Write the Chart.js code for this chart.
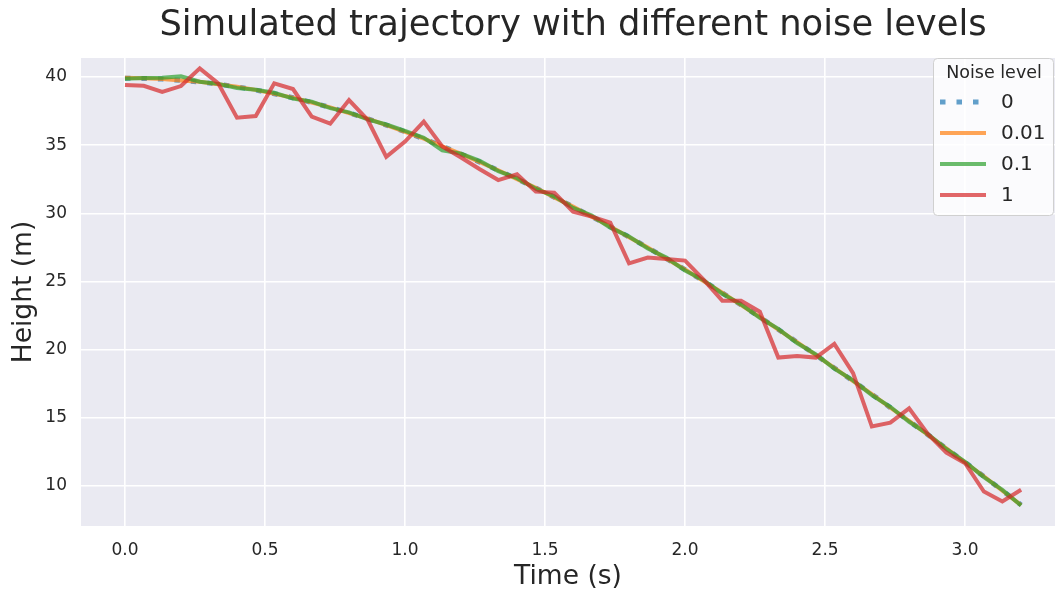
<!DOCTYPE html>
<html>
<head>
<meta charset="utf-8">
<script src="https://cdn.jsdelivr.net/npm/chart.js@4.4.0/dist/chart.umd.min.js"></script>
<style>
    body { margin: 0; background: #ffffff; }
    #box { width: 1055px; height: 590px; }
</style>
</head>
<body>
<div id="box"><canvas id="lineChart" width="1055" height="590"></canvas></div>
<script>
// tempi di campionamento (s)
const tempi = [0.000, 0.067, 0.133, 0.200, 0.267, 0.333, 0.400, 0.467, 0.533, 0.600,
    0.667, 0.733, 0.800, 0.867, 0.933, 1.000, 1.067, 1.133, 1.200, 1.267,
    1.333, 1.400, 1.467, 1.533, 1.600, 1.667, 1.733, 1.800, 1.867, 1.933,
    2.000, 2.067, 2.133, 2.200, 2.267, 2.333, 2.400, 2.467, 2.533, 2.600,
    2.667, 2.733, 2.800, 2.867, 2.933, 3.000, 3.067, 3.133, 3.200];

const livelliRumore = ['0', '0.01', '0.1', '1'];

// altezza (m) per ogni livello di rumore
const altezza0 = [39.92, 39.90, 39.85, 39.76, 39.64, 39.48, 39.28, 39.05, 38.78, 38.48,
    38.14, 37.77, 37.37, 36.94, 36.48, 35.99, 35.47, 34.92, 34.35, 33.76,
    33.15, 32.52, 31.86, 31.18, 30.48, 29.76, 29.02, 28.26, 27.48, 26.68,
    25.86, 25.02, 24.16, 23.28, 22.38, 21.47, 20.54, 19.60, 18.65, 17.69,
    16.72, 15.74, 14.75, 13.75, 12.74, 11.72, 10.69, 9.65, 8.60];

const altezza001 = [39.95, 39.91, 39.86, 39.75, 39.65, 39.47, 39.29, 39.06, 38.77, 38.49,
    38.13, 37.78, 37.36, 36.95, 36.47, 35.98, 35.48, 34.91, 34.36, 33.75,
    33.16, 32.51, 31.87, 31.17, 30.49, 29.75, 29.03, 28.25, 27.49, 26.67,
    25.87, 25.01, 24.17, 23.27, 22.39, 21.46, 20.55, 19.59, 18.66, 17.68,
    16.73, 15.73, 14.76, 13.74, 12.75, 11.71, 10.70, 9.64, 8.58];

const altezza01 = [39.88, 39.93, 39.95, 40.06, 39.66, 39.50, 39.20, 39.07, 38.85, 38.42,
    38.20, 37.72, 37.41, 36.90, 36.52, 36.05, 35.55, 34.62, 34.38, 33.85,
    33.10, 32.58, 31.80, 31.25, 30.40, 29.83, 28.95, 28.30, 27.42, 26.75,
    25.80, 25.08, 24.10, 23.32, 22.33, 21.52, 20.48, 19.65, 18.60, 17.74,
    16.66, 15.80, 14.70, 13.79, 12.70, 11.76, 10.64, 9.70, 8.55];

const altezza1 = [39.41, 39.36, 38.92, 39.34, 40.64, 39.54, 37.02, 37.14, 39.54, 39.12,
    37.09, 36.58, 38.31, 36.85, 34.15, 35.26, 36.73, 34.90, 34.10, 33.23,
    32.44, 32.86, 31.59, 31.52, 30.12, 29.76, 29.31, 26.33, 26.75, 26.65,
    26.53, 25.11, 23.59, 23.59, 22.78, 19.41, 19.53, 19.41, 20.42, 18.27,
    14.35, 14.64, 15.68, 13.80, 12.44, 11.66, 9.58, 8.85, 9.71];

const tickTempo = [0, 0.5, 1.0, 1.5, 2.0, 2.5, 3.0];
const tickAltezza = [10, 15, 20, 25, 30, 35, 40];

const testo = '#262626';
const font = 'DejaVu Sans';

function punti(valori) {
    return tempi.map((t, i) => ({ x: t, y: valori[i] }));
}

// sfondo grigio dell'area del grafico
const sfondoArea = {
    id: 'sfondoArea',
    beforeDraw(chart) {
        const { ctx, chartArea } = chart;
        ctx.save();
        ctx.fillStyle = '#eaeaf2';
        ctx.fillRect(chartArea.left, chartArea.top, chartArea.right - chartArea.left, chartArea.bottom - chartArea.top);
        ctx.restore();
    }
};

// titolo centrato sugli assi interi (anche la parte tagliata a destra)
const titolo = {
    id: 'titolo',
    afterDraw(chart) {
        const { ctx } = chart;
        const sx = chart.scales.x;
        const centro = (sx.getPixelForValue(-0.16) + sx.getPixelForValue(3.36)) / 2;
        ctx.save();
        ctx.fillStyle = testo;
        ctx.font = '35.3px "' + font + '"';
        ctx.textAlign = 'center';
        ctx.textBaseline = 'alphabetic';
        ctx.fillText('Simulated trajectory with different noise levels', centro, 35);
        ctx.restore();
    }
};

// legenda dentro l'area, in alto a destra
const legenda = {
    id: 'legenda',
    afterDraw(chart) {
        const { ctx, chartArea } = chart;
        const x0 = chartArea.right - 122, y0 = chartArea.top, w = 120, h = 157;
        ctx.save();
        ctx.beginPath();
        ctx.roundRect(x0 + 0.5, y0 + 0.5, w, h, 4);
        ctx.fillStyle = 'rgba(255,255,255,0.8)';
        ctx.fill();
        ctx.strokeStyle = '#d0d0d0';
        ctx.lineWidth = 1;
        ctx.stroke();

        ctx.fillStyle = testo;
        ctx.textBaseline = 'middle';
        ctx.textAlign = 'center';
        ctx.font = '17.5px "' + font + '"';
        ctx.fillText('Noise level', x0 + 61, y0 + 15);

        ctx.textAlign = 'left';
        ctx.font = '20px "' + font + '"';
        chart.data.datasets.forEach((ds, i) => {
            const y = y0 + 44 + i * 31;
            ctx.beginPath();
            ctx.strokeStyle = ds.borderColor;
            ctx.lineWidth = ds.borderWidth;
            ctx.setLineDash(ds.borderDash || []);
            ctx.moveTo(x0 + 7, y);
            ctx.lineTo(x0 + 53, y);
            ctx.stroke();
            ctx.setLineDash([]);
            ctx.fillStyle = testo;
            ctx.fillText(ds.label, x0 + 68, y + 1);
        });
        ctx.restore();
    }
};

const myChart = new Chart(document.getElementById('lineChart').getContext('2d'), {
    type: 'line',
    data: {
        datasets: [{
            label: livelliRumore[0],
            data: punti(altezza0),
            borderColor: 'rgba(31,119,180,0.7)',
            borderWidth: 5,
            borderDash: [5.5, 11],
            order: 4
        }, {
            label: livelliRumore[1],
            data: punti(altezza001),
            borderColor: 'rgba(255,127,14,0.7)',
            borderWidth: 4,
            order: 3
        }, {
            label: livelliRumore[2],
            data: punti(altezza01),
            borderColor: 'rgba(44,160,44,0.7)',
            borderWidth: 4,
            order: 2
        }, {
            label: livelliRumore[3],
            data: punti(altezza1),
            borderColor: 'rgba(214,39,40,0.7)',
            borderWidth: 4,
            order: 1
        }]
    },
    options: {
        responsive: false,
        animation: false,
        tension: 0,
        pointRadius: 0,
        layout: { padding: { top: 58, right: 0, bottom: 0, left: 0 } },
        plugins: {
            legend: { display: false },
            tooltip: { enabled: false }
        },
        scales: {
            x: {
                type: 'linear',
                min: -0.157,
                max: 3.321,
                afterFit: s => { s.height = 64; },
                afterBuildTicks: s => { s.ticks = tickTempo.map(v => ({ value: v })); },
                border: { display: false },
                grid: { color: '#ffffff', lineWidth: 1.6, drawTicks: false },
                ticks: {
                    padding: 14,
                    color: testo,
                    font: { family: font, size: 17 },
                    callback: v => v.toFixed(1)
                },
                title: {
                    display: true,
                    text: 'Time (s)',
                    color: testo,
                    font: { family: font, size: 26.5 },
                    padding: { top: -3, bottom: -3 }
                }
            },
            y: {
                min: 7.05,
                max: 41.4,
                afterFit: s => { s.width = 81; },
                afterBuildTicks: s => { s.ticks = tickAltezza.map(v => ({ value: v })); },
                border: { display: false },
                grid: { color: '#ffffff', lineWidth: 1.6, drawTicks: false },
                ticks: {
                    padding: 14,
                    color: testo,
                    font: { family: font, size: 17 }
                },
                title: {
                    display: true,
                    text: 'Height (m)',
                    color: testo,
                    font: { family: font, size: 26.5 },
                    padding: { top: 8, bottom: 8 }
                }
            }
        }
    },
    plugins: [sfondoArea, titolo, legenda]
});
</script>
</body>
</html>
